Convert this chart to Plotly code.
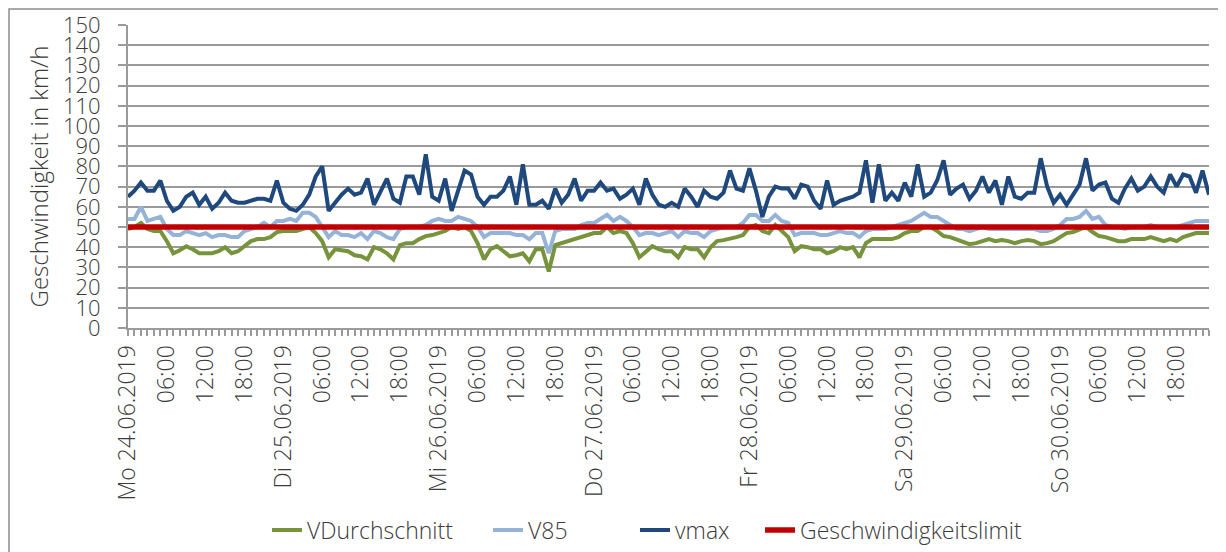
import plotly.graph_objects as go

# ---- data (hourly values, 24.06.2019 00:00 - 30.06.2019 23:00) ----
days = ["Mo 24.06.2019", "Di 25.06.2019", "Mi 26.06.2019", "Do 27.06.2019",
        "Fr 28.06.2019", "Sa 29.06.2019", "So 30.06.2019"]
hour_labels = ["06:00", "12:00", "18:00"]

v_durchschnitt = [
    49, 50, 52, 49, 48, 48, 43, 37, 38.5, 40.5, 39, 37, 37, 37, 38, 40, 37, 38, 40.5, 43, 44, 44, 45, 47.5,
    48, 48, 48, 49, 50, 47, 43, 35, 39, 38.5, 38, 36, 35.5, 34, 40, 39, 37, 34, 41, 42, 42, 44, 45.5, 46,
    47, 48, 50, 49, 50, 48, 42, 34, 39, 40.5, 38, 35.5, 36, 37, 33, 39, 39, 28, 41, 42, 43, 44, 45, 46,
    47, 47, 50, 47, 48, 47, 42, 35, 38, 40.5, 39, 38, 38, 35, 40, 39, 39, 35, 40, 43, 43.5, 44, 45, 46,
    50, 51, 48, 47, 51, 48, 45, 38, 40.5, 40, 39, 39, 37, 38, 40, 39, 40, 35, 42, 44, 44, 44, 44, 45,
    47, 48, 48, 50, 50, 48, 45.5, 45, 44, 43, 41.5, 42, 43, 44, 43, 43.5, 43, 42, 43, 43.5, 43, 41.5, 42, 43,
    45, 47, 47.5, 49, 50, 47.5, 45.5, 45, 44, 43, 43, 44, 44, 44, 45, 44, 43, 44, 43, 45, 46, 47, 47, 47,
]
v85 = [
    54, 54, 60, 53, 54, 55, 49, 46, 46, 48, 47, 46, 47, 45, 46, 46, 45, 45, 48, 49, 50, 52, 50, 53,
    53, 54, 53, 57, 57, 55, 50, 45, 48, 46, 46, 45, 47, 44, 48, 47, 45, 44, 49, 50, 50, 50, 51, 53,
    54, 53, 53, 55, 54, 53, 50, 45, 47, 47, 47, 47, 46, 46, 44, 47, 47, 37, 48, 49, 49, 49, 51, 52,
    52, 54, 56, 53, 55, 53, 50, 46, 47, 47, 46, 47, 48, 45, 48, 47, 47, 45, 48, 49, 50, 50, 50, 52,
    56, 56, 53, 53, 56, 53, 52, 46, 47, 47, 47, 46, 46, 47, 48, 47, 47, 45, 48, 49, 49, 49, 50, 51,
    52, 53, 55, 57, 55, 55, 53, 51, 49, 49, 48, 49, 50, 49, 49, 49, 49, 49, 49, 49, 49, 48, 48, 49,
    51, 54, 54, 55, 58, 54, 55, 51, 50, 50, 49, 50, 50, 50, 51, 50, 50, 50, 50, 51, 52, 53, 53, 53,
]
vmax = [
    65, 68, 72, 68, 68, 73, 63, 58, 60, 65, 67, 61, 65, 59, 62, 67, 63, 62, 62, 63, 64, 64, 63, 73,
    62, 59, 58, 61, 66, 75, 80, 58, 62, 66, 69, 66, 67, 74, 61, 67, 74, 64, 62, 75, 75, 66, 86, 65,
    63, 74, 58, 68, 78, 76, 65, 61, 65, 65, 68, 75, 61, 81, 61, 61, 63, 59, 69, 62, 66, 74, 63, 68,
    68, 72, 68, 69, 64, 66, 69, 61, 74, 66, 61, 60, 62, 60, 69, 65, 60, 68, 65, 64, 67, 78, 69, 68,
    79, 68, 55, 65, 70, 69, 69, 64, 71, 70, 63, 59, 73, 61, 63, 64, 65, 67, 83, 62, 81, 63, 67, 63,
    72, 65, 81, 65, 67, 73, 83, 66, 69, 71, 64, 68, 75, 67, 73, 61, 75, 65, 64, 67, 67, 84, 70, 62,
    66, 61, 66, 71, 84, 68, 71, 72, 64, 62, 69, 74, 68, 70, 75, 70, 67, 76, 70, 76, 75, 67, 78, 66,
]
limit_value = 50
limit = [limit_value] * len(vmax)

# ---- category axis ----
n = len(vmax)
x = list(range(n))
tickvals = x
ticktext = []
for i in x:
    h = i % 24
    if h == 0:
        ticktext.append(days[i // 24])
    elif h % 6 == 0:
        ticktext.append(hour_labels[h // 6 - 1])
    else:
        ticktext.append("")

FONT = "Open Sans"
TXT = "#3b3b3b"
GRID = "#9a9a9a"

# page has an 8px body margin -> figure is offset by 8px; compensate
OFF = 8
W, H = 1226 - OFF, 552 - OFF
L, R, T = 128 - OFF, 17, 25 - OFF
plot_bottom = 328 - OFF
B = H - plot_bottom
pw = W - L - R
ph = H - T - B

series = [
    ("VDurchschnitt", v_durchschnitt, "#77933C", 4, 307),
    ("V85", v85, "#95B3D7", 4, 528),
    ("vmax", vmax, "#1F497D", 4, 675),
    ("Geschwindigkeitslimit", limit, "#C00000", 5.5, 800),
]

fig = go.Figure()
legend_layouts = {}
for k, (name, vals, col, w, text_x) in enumerate(series):
    lg = "legend" if k == 0 else f"legend{k + 1}"
    fig.add_trace(go.Scatter(x=x, y=vals, mode="lines", name=name, legend=lg,
                             line=dict(color=col, width=w), hoverinfo="skip"))
    legend_layouts[lg] = dict(
        orientation="h", x=(text_x - OFF - 40 - L) / pw, xanchor="left",
        y=(plot_bottom - (530 - OFF)) / ph, yanchor="middle",
        font=dict(size=23, family=FONT, color=TXT, weight=300),
        itemwidth=30, bgcolor="rgba(0,0,0,0)", borderwidth=0)

fig.update_layout(
    width=W, height=H,
    margin=dict(l=L, r=R, t=T, b=B, autoexpand=False),
    paper_bgcolor="white", plot_bgcolor="white",
    font=dict(family=FONT, color=TXT, size=23, weight=300),
    showlegend=True,
    xaxis=dict(range=[0, n - 1], tickmode="array", tickvals=tickvals, ticktext=ticktext,
               tickangle=-90, ticks="outside", ticklen=6, tickwidth=1.5, tickcolor=GRID,
               showline=True, linecolor=GRID, linewidth=2, showgrid=False, zeroline=False,
               automargin=False,
               tickfont=dict(size=23, family=FONT, color=TXT, weight=300)),
    yaxis=dict(range=[0, 150], dtick=10, tick0=0, ticks="outside", ticklen=8, tickwidth=2,
               tickcolor=GRID, showline=True, linecolor=GRID, linewidth=2,
               showgrid=True, gridcolor=GRID, gridwidth=2, zeroline=False,
               automargin=False,
               tickfont=dict(size=22, family=FONT, color=TXT, weight=300),
               ticklabelstandoff=13,
               title=dict(text="Geschwindigkeit in km/h", standoff=8,
                          font=dict(size=24, family=FONT, color=TXT, weight=300))),
    shapes=[dict(type="rect", xref="paper", yref="paper",
                 x0=(1 - L) / pw, x1=1.2, y0=-1.5, y1=1 + (T - 1) / ph,
                 line=dict(color="#8c8c8c", width=1.5), fillcolor="rgba(0,0,0,0)",
                 layer="below")],
)
fig.update_layout(**legend_layouts)

fig.write_html("out.html")
